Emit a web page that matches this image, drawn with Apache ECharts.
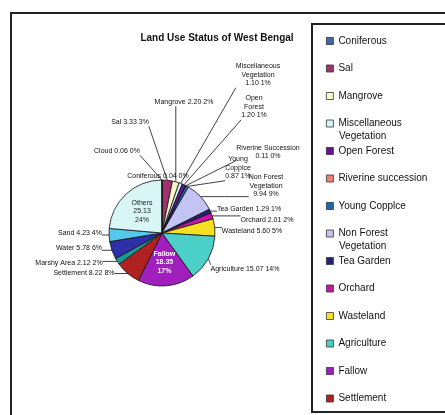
<!DOCTYPE html>
<html>
<head>
  <meta charset="utf-8">
  <title>Land Use Status of West Bengal</title>
  <script src="https://cdn.jsdelivr.net/npm/echarts@6/dist/echarts.min.js"></script>
  <style>
    body { margin: 0; background: #fff; }
  </style>
</head>
<body>
  <div id="main" style="width: 445px;height:415px;"></div>

  <script>
    // land use classes, in the order the pie is drawn (clockwise from 12 o'clock)
    const categories = [
      "Coniferous", "Sal", "Mangrove", "Miscellaneous Vegetation", "Open Forest",
      "Riverine Succession", "Young Copplce", "Non Forest Vegetation", "Tea Garden",
      "Orchard", "Wasteland", "Agriculture", "Fallow", "Settlement",
      "Marshy Area", "Water", "Sand", "Others", "Cloud"
    ];
    // area of each class (estimated where blurred)
    const areas = [
      0.04, 3.33, 2.20, 1.10, 1.20,
      0.11, 0.87, 9.94, 1.29,
      2.01, 5.60, 15.07, 18.35, 8.22,
      2.12, 5.78, 4.23, 25.13, 0.06
    ];
    const colors = [
      "#3d67a8", "#a3306e", "#fbf6c8", "#d4f4f4", "#66129a",
      "#f08070", "#1a68b0", "#c4c4f4", "#23237e",
      "#c814a8", "#f4e020", "#4ccfc6", "#a11fbd", "#b02222",
      "#1a9a96", "#2f2fa8", "#55c8ee", "#d8f6f6", "#e8f4dc"
    ];
    // the legend box only has room for these
    const legendNames = categories.slice(0, 14);
    // labels drawn inside their slice
    const insideLabels = { "Fallow": "#ffffff", "Others": "#222" };
    // labels that wrap onto several lines
    const wrapped = {
      "Miscellaneous Vegetation": "Miscellaneous\nVegetation",
      "Open Forest": "Open\nForest",
      "Riverine Succession": "Riverine Succession",
      "Young Copplce": "Young\nCopplce",
      "Non Forest Vegetation": "Non Forest\nVegetation"
    };
    // where the outside labels sit (label centre), like the Excel original
    const labelSpots = {
      "Coniferous": [158, 176], "Sal": [130, 122], "Mangrove": [184, 102],
      "Miscellaneous Vegetation": [258, 75], "Open Forest": [254, 107],
      "Riverine Succession": [268, 152], "Young Copplce": [238, 168],
      "Non Forest Vegetation": [266, 186], "Tea Garden": [249, 209],
      "Orchard": [267, 220], "Wasteland": [252, 231], "Agriculture": [245, 269],
      "Settlement": [84, 273], "Marshy Area": [69, 263], "Water": [79, 248],
      "Sand": [80, 233], "Cloud": [117, 151]
    };

    const chart = echarts.init(document.getElementById("main"));

    const data = categories.map((name, i) => {
      const item = { name: name, value: areas[i], itemStyle: { color: colors[i] } };
      if (insideLabels[name]) {
        item.label = {
          position: "inside",
          color: insideLabels[name],
          fontWeight: name === "Fallow" ? "bold" : "normal",
          fontSize: 7,
          lineHeight: 8.5,
          formatter: p => p.name + "\n" + p.value.toFixed(2) + "\n" + p.percent + "%"
        };
      }
      return item;
    });

    const option = {
      animation: false,
      textStyle: { fontFamily: "Liberation Sans, Arial, sans-serif" },
      title: {
        text: "Land Use Status of West Bengal",
        left: 212, top: 28, textAlign: "center",
        textStyle: { fontSize: 10, fontWeight: "bold", color: "#111" }
      },
      graphic: [
        { type: "rect", shape: { x: 11, y: 13, width: 445, height: 410 },
          style: { fill: "none", stroke: "#222", lineWidth: 2 } },
        { type: "rect", shape: { x: 312, y: 24, width: 140, height: 388 },
          style: { fill: "none", stroke: "#222", lineWidth: 2 } },
        { type: "text", x: 339, y: 136.5,
          style: { text: "Vegetation", fontSize: 10, fill: "#111", verticalAlign: "middle",
                   fontFamily: "Liberation Sans" } },
        { type: "text", x: 339, y: 246,
          style: { text: "Vegetation", fontSize: 10, fill: "#111", verticalAlign: "middle",
                   fontFamily: "Liberation Sans" } }
      ],
      legend: {
        data: legendNames,
        orient: "vertical",
        left: 326, top: 36,
        padding: 0,
        itemWidth: 7, itemHeight: 7,
        itemGap: 17.5,
        icon: "rect",
        itemStyle: { borderColor: "#333", borderWidth: 0.8 },
        textStyle: { fontSize: 10, color: "#111" },
        formatter: name => name.replace(" Vegetation", "").replace("Succession", "succession")
      },
      series: [{
        type: "pie",
        center: [162, 233],
        radius: 53,
        startAngle: 90,
        clockwise: true,
        percentPrecision: 0,
        itemStyle: { borderColor: "#111", borderWidth: 0.8 },
        label: {
          fontSize: 7,
          color: "#111",
          lineHeight: 8.5,
          formatter: p => (wrapped[p.name] ? wrapped[p.name] + "\n" : p.name + " ")
            + p.value.toFixed(2) + " " + p.percent + "%"
        },
        labelLine: {
          length: 12, length2: 6,
          lineStyle: { color: "#111", width: 0.8 }
        },
        labelLayout: function (params) {
          const spot = labelSpots[categories[params.dataIndex]];
          if (!spot || !params.labelLinePoints) return {};
          const w = params.labelRect.width, h = params.labelRect.height;
          const x0 = spot[0] - w / 2, y0 = spot[1] - h / 2;
          const p = params.labelLinePoints[0];
          const end = [
            Math.min(Math.max(p[0], x0), x0 + w),
            Math.min(Math.max(p[1], y0), y0 + h)
          ];
          const mid = [(p[0] + end[0]) / 2, (p[1] + end[1]) / 2];
          return {
            x: spot[0], y: spot[1],
            align: "center", verticalAlign: "middle",
            labelLinePoints: [p, mid, end]
          };
        },
        data: data
      }]
    };
    chart.setOption(option);
  </script>
</body>
</html>
